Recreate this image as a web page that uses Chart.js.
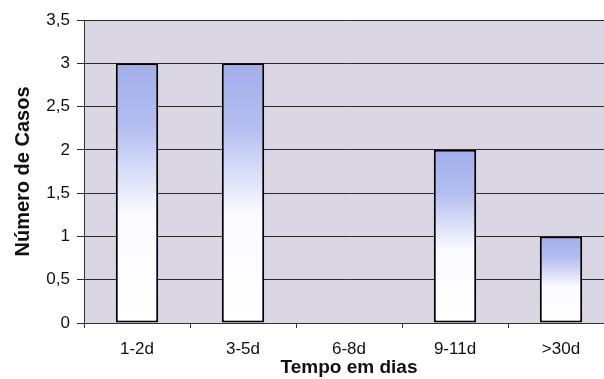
<!DOCTYPE html>
<html><head><meta charset="utf-8">
<script src="https://cdn.jsdelivr.net/npm/chart.js@4"></script>
<style>html,body{margin:0;padding:0;background:#fff;overflow:hidden;width:604px;height:379px}#w{width:630px;height:379px}</style>
</head><body><div id="w"><canvas id="c"></canvas></div>
<script>
const categories = ['1-2d', '3-5d', '6-8d', '9-11d', '>30d'];
const casos = [3, 3, 0, 2, 1];
const yTicks = [0, 0.5, 1, 1.5, 2, 2.5, 3, 3.5];
const xTitle = 'Tempo em dias';
const yTitle = 'Número de Casos';

const bgPlugin = {
  id: 'plotBg',
  beforeDraw(chart) {
    const a = chart.chartArea, ctx = chart.ctx;
    ctx.save();
    ctx.fillStyle = '#dad6e4';
    ctx.fillRect(a.left, a.top, a.right - a.left, a.bottom - a.top);
    ctx.restore();
  }
};

function barGradient(context) {
  const chart = context.chart;
  if (!chart.chartArea) return '#ffffff';
  const v = context.raw;
  const ys = chart.scales.y;
  const top = ys.getPixelForValue(v), base = ys.getPixelForValue(0);
  if (!(base > top)) return '#ffffff';
  const g = chart.ctx.createLinearGradient(0, top, 0, base);
  g.addColorStop(0, '#a2aeec');
  g.addColorStop(0.25, '#b4bef0');
  g.addColorStop(0.58, '#fbfbff');
  g.addColorStop(1, '#ffffff');
  return g;
}

new Chart(document.getElementById('c'), {
  type: 'bar',
  data: {
    labels: categories,
    datasets: [{
      data: casos,
      backgroundColor: barGradient,
      borderColor: '#000',
      borderWidth: 2,
      borderSkipped: false,
      barPercentage: 0.4,
      categoryPercentage: 1
    }]
  },
  plugins: [bgPlugin],
  options: {
    responsive: true,
    maintainAspectRatio: false,
    animation: false,
    layout: { padding: { top: 20, right: 16, left: 3, bottom: 0 } },
    plugins: { legend: { display: false }, tooltip: { enabled: false } },
    scales: {
      x: {
        afterFit(axis) { axis.height = 56; },
        grid: { display: true, drawOnChartArea: false, color: '#333', tickLength: 5, offset: true },
        border: { display: true, color: '#333', width: 1 },
        ticks: { color: '#111', font: { family: 'Liberation Sans', size: 17 }, padding: 11 },
        title: { display: true, text: xTitle, color: '#111', font: { family: 'Liberation Sans', size: 19, weight: 'bold' }, padding: { top: 0, bottom: 0 } }
      },
      y: {
        min: 0, max: 3.5,
        afterFit(axis) { axis.width = 81; },
        afterBuildTicks(axis) { axis.ticks = yTicks.map(v => ({ value: v })); },
        grid: { color: '#2a2a2a', lineWidth: 1, tickLength: 7 },
        border: { display: true, color: '#333', width: 1 },
        ticks: {
          color: '#111', font: { family: 'Liberation Sans', size: 17 }, padding: 7,
          callback: v => String(v).replace('.', ',')
        },
        title: { display: true, text: yTitle, color: '#111', font: { family: 'Liberation Sans', size: 20, weight: 'bold' }, padding: { top: 8, bottom: 0 } }
      }
    }
  }
});
</script>
</body></html>
